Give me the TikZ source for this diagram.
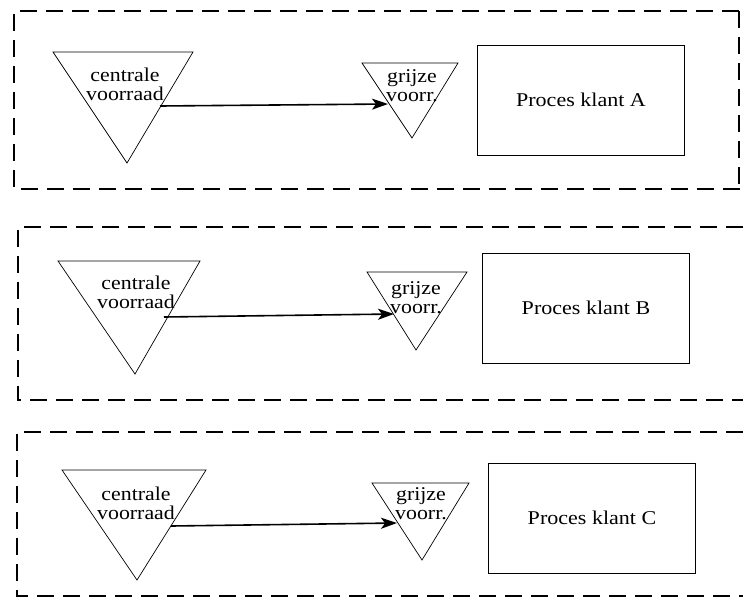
\documentclass[tikz,border=0pt]{standalone}
\usepackage{fontspec}
\setmainfont{Liberation Serif}
\usetikzlibrary{arrows.meta}
\newcommand{\wide}[1]{\scalebox{1.13}[1]{#1}}
\begin{document}
\begin{tikzpicture}[x=1pt,y=-1pt,
  group/.style={draw, line width=1.1pt, dash pattern=on 17pt off 9pt},
  stock/.style={draw, line width=0.7pt, line join=miter},
  proc/.style={draw, line width=0.7pt, minimum width=207pt, minimum height=110pt, inner sep=0pt,
    font=\fontsize{19.5}{20}\selectfont},
  lbl/.style={align=center, inner sep=0pt, font=\fontsize{19.5}{19}\selectfont, xscale=1.12, transform shape},
  flow/.style={line width=1.6pt, -{Stealth[length=16pt,width=11pt,inset=4pt]}}]
\useasboundingbox (0,0) rectangle (743,614);

% ---- Klant A ----
\draw[group] (739,11) -- (14,11) -- (14,189) -- (743,189);
\draw[group] (739,11) -- (739,189);
\draw[stock] (53,52) -- (193,52) -- (127,163) -- cycle;
\node[lbl] (cA) at (125,84) {centrale\\voorraad};
\draw[stock] (362,63) -- (458,63) -- (412,138) -- cycle;
\node[lbl] (gA) at (412,86) {grijze\\voorr.};
\node[proc] (pA) at (581,100) {\wide{Proces klant A}};
\coordinate (sA) at (160,106);
\coordinate (eA) at (388,104);
\draw[flow] (sA) -- (eA);

% ---- Klant B ----
\draw[group] (743,227) -- (18,227) -- (18,400) -- (743,400);
\draw[stock] (58,261) -- (200,261) -- (135,374) -- cycle;
\node[lbl] (cB) at (136,292) {centrale\\voorraad};
\draw[stock] (367,272) -- (467,272) -- (416,350) -- cycle;
\node[lbl] (gB) at (416,298) {grijze\\voorr.};
\node[proc] (pB) at (586,308) {\wide{Proces klant B}};
\coordinate (sB) at (164,317);
\coordinate (eB) at (394,314);
\draw[flow] (sB) -- (eB);

% ---- Klant C ----
\draw[group] (743,432) -- (17,432) -- (17,596) -- (743,596);
\draw[stock] (62,470) -- (206,470) -- (137,580) -- cycle;
\node[lbl] (cC) at (136,503) {centrale\\voorraad};
\draw[stock] (372,483) -- (469,483) -- (422,560) -- cycle;
\node[lbl] (gC) at (421,504) {grijze\\voorr.};
\node[proc] (pC) at (592,518) {\wide{Proces klant C}};
\coordinate (sC) at (171,526);
\coordinate (eC) at (397,523);
\draw[flow] (sC) -- (eC);
\end{tikzpicture}
\end{document}
